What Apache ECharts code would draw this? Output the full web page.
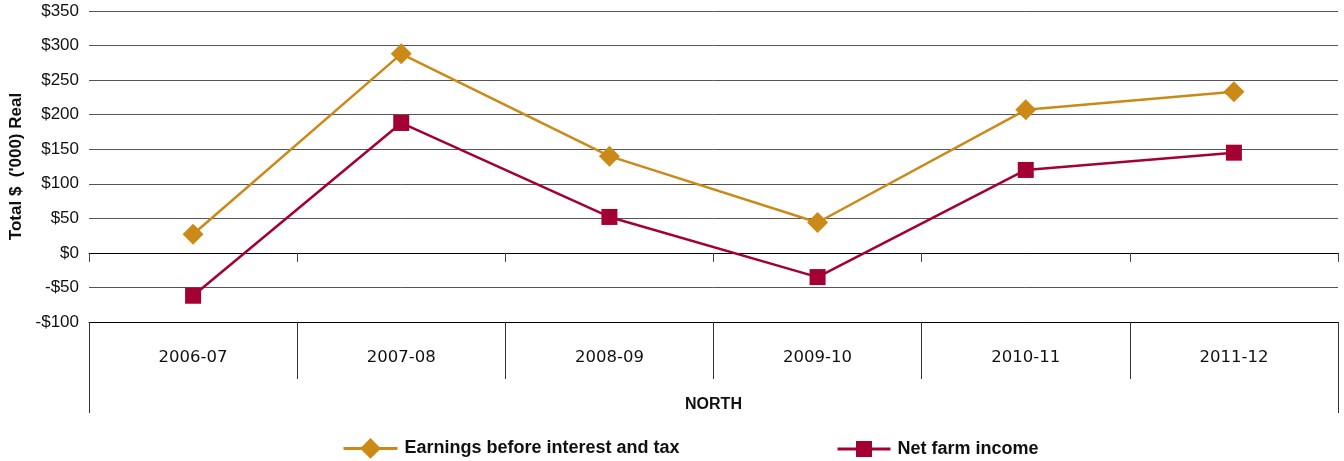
<!DOCTYPE html>
<html>
<head>
<meta charset="utf-8">
<script src="https://cdn.jsdelivr.net/npm/echarts@6/dist/echarts.min.js"></script>
<style>
  html, body { margin: 0; padding: 0; background: #fff; }
  #chart { width: 1344px; height: 461px; }
</style>
</head>
<body>
<div id="chart"></div>
<script>
// Financial years for the North region
const years = ['2006-07', '2007-08', '2008-09', '2009-10', '2010-11', '2011-12'];
const region = ['NORTH'];

// Totals in $'000 (real)
const ebit = [27, 288, 140, 44, 207, 233];
const netFarmIncome = [-62, 188, 52, -35, 120, 145];

const yMin = -100, yMax = 350, yStep = 50;

const SERIES_EBIT = 'Earnings before interest and tax';
const SERIES_NFI = 'Net farm income';

const GOLD = '#CB8A17';
const CRIMSON = '#A50034';
const LABEL_FONT = 'Liberation Sans';
const CAT_FONT = 'DejaVu Sans';

const legendText = { fontFamily: LABEL_FONT, fontWeight: 'bold', fontSize: 18, color: '#111', padding: [0, 0, 0, 2] };

const chart = echarts.init(document.getElementById('chart'));

chart.setOption({
  animation: false,
  backgroundColor: '#fff',
  grid: { left: 89, right: 6, top: 11, bottom: 139, containLabel: false, outerBoundsMode: 'none' },
  legend: [
    {
      left: 342,
      top: 438,
      padding: 0,
      itemWidth: 54,
      itemHeight: 26,
      lineStyle: { width: 3 },
      textStyle: legendText,
      data: [SERIES_EBIT]
    },
    {
      left: 836,
      top: 440,
      padding: 0,
      itemWidth: 53,
      itemHeight: 20,
      lineStyle: { width: 3 },
      textStyle: legendText,
      data: [SERIES_NFI]
    }
  ],
  xAxis: [
    {
      // Zero line with short boundary ticks
      type: 'category',
      data: years,
      boundaryGap: true,
      axisLine: { onZero: true, lineStyle: { color: '#000', width: 1 } },
      axisTick: { show: true, length: 9, lineStyle: { color: '#444' } },
      axisLabel: { show: false },
      splitLine: { show: false }
    },
    {
      // Year band along the bottom of the plot
      type: 'category',
      data: years,
      position: 'bottom',
      boundaryGap: true,
      axisLine: { show: true, onZero: false, lineStyle: { color: '#000', width: 1 } },
      axisTick: { show: true, length: 57, lineStyle: { color: '#333' } },
      axisLabel: { margin: 27, fontFamily: CAT_FONT, fontSize: 16.5, color: '#111' },
      splitLine: { show: false }
    },
    {
      // Region band below the years
      type: 'category',
      data: region,
      position: 'bottom',
      boundaryGap: true,
      axisLine: { show: false, onZero: false },
      axisTick: { show: true, length: 91, lineStyle: { color: '#333' } },
      axisLabel: { margin: 75, fontFamily: LABEL_FONT, fontSize: 16, fontWeight: 'bold', color: '#111' },
      splitLine: { show: false }
    }
  ],
  yAxis: {
    type: 'value',
    min: yMin,
    max: yMax,
    interval: yStep,
    name: "Total $  ('000) Real",
    nameLocation: 'middle',
    nameGap: 64,
    nameRotate: 90,
    nameTextStyle: { fontFamily: LABEL_FONT, fontWeight: 'bold', fontSize: 17, color: '#111' },
    axisLine: { show: false },
    axisTick: { show: false },
    axisLabel: {
      margin: 10,
      fontFamily: LABEL_FONT,
      fontSize: 17,
      color: '#111',
      formatter: v => (v < 0 ? '-$' + Math.abs(v) : '$' + v)
    },
    splitLine: { show: true, lineStyle: { color: '#555', width: 1 } }
  },
  series: [
    {
      name: SERIES_EBIT,
      type: 'line',
      xAxisIndex: 0,
      data: ebit,
      symbol: 'diamond',
      symbolSize: 21,
      itemStyle: { color: GOLD },
      lineStyle: { color: GOLD, width: 2.5 },
      z: 3
    },
    {
      name: SERIES_NFI,
      type: 'line',
      xAxisIndex: 0,
      data: netFarmIncome,
      symbol: 'rect',
      symbolSize: 16,
      itemStyle: { color: CRIMSON },
      lineStyle: { color: CRIMSON, width: 2.5 },
      z: 3
    }
  ]
});
</script>
</body>
</html>
